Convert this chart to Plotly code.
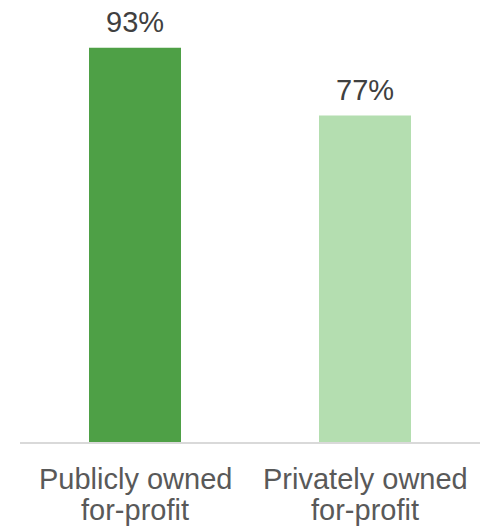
import plotly.graph_objects as go

categories = ["Publicly owned for-profit", "Privately owned for-profit"]
label_line1 = ["Publicly owned", "Privately owned"]
label_line2 = ["for-profit", "for-profit"]
values = [93, 77]
labels = ["93%", "77%"]
colors = ["#4EA046", "#B4DEB0"]

FONT = "Liberation Sans, Arial"

fig = go.Figure()
fig.add_trace(go.Bar(
    x=categories, y=values, marker=dict(color=colors, line=dict(width=0)),
    width=0.4, hoverinfo="skip",
))
for c, v, t in zip(categories, values, labels):
    fig.add_annotation(x=c, y=v, text=t, showarrow=False, yanchor="bottom",
                       yshift=8, font=dict(family=FONT, size=29, color="#404040"))
for c, l1, l2 in zip(categories, label_line1, label_line2):
    fig.add_annotation(x=c, y=0, xref="x", yref="paper", text=l1, showarrow=False,
                       yanchor="middle", yshift=-37,
                       font=dict(family=FONT, size=29, color="#595959"))
    fig.add_annotation(x=c, y=0, xref="x", yref="paper", text=l2, showarrow=False,
                       yanchor="middle", yshift=-68,
                       font=dict(family=FONT, size=29, color="#595959"))

fig.update_layout(
    width=483, height=526,
    margin=dict(l=20, r=3, t=18, b=84),
    paper_bgcolor="white", plot_bgcolor="white",
    showlegend=False, bargap=0.6,
    font=dict(family=FONT, size=29, color="#595959"),
)
fig.update_yaxes(range=[0, 100], visible=False, showgrid=False, automargin=False)
fig.update_xaxes(showline=True, linecolor="#D9D9D9", linewidth=2, ticks="",
                 showticklabels=False, automargin=False)
fig.write_html("out.html")
